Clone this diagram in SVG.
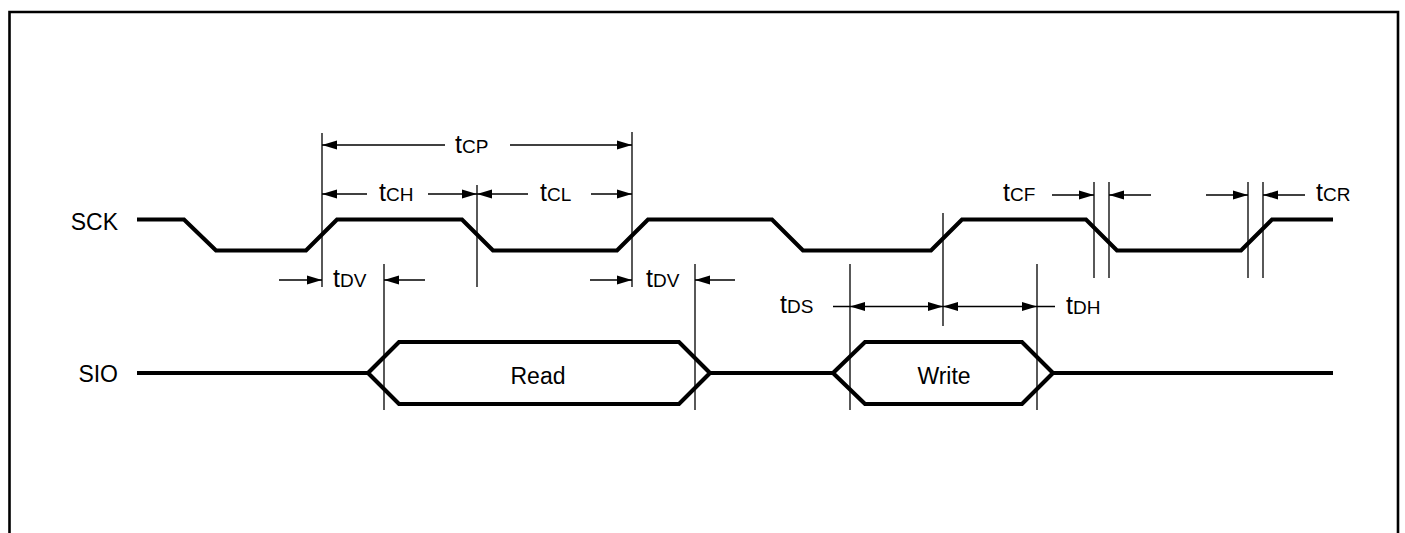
<svg xmlns="http://www.w3.org/2000/svg" width="1405" height="533" viewBox="0 0 1405 533">
<style>
text{font-family:"Liberation Sans",Arial,sans-serif;fill:#000}
.lbl{font-size:23px}
.t{font-size:25px}
.s{font-size:19px}
.sig{fill:none;stroke:#000;stroke-width:4.2;stroke-linejoin:miter}
.dim{fill:none;stroke:#000;stroke-width:1.3}
.arr{fill:none;stroke:#000;stroke-width:1.3;marker-end:url(#ah)}
.arr2{fill:none;stroke:#000;stroke-width:1.3;marker-start:url(#ah);marker-end:url(#ah)}
</style>
<defs>
<marker id="ah" markerUnits="userSpaceOnUse" markerWidth="16" markerHeight="10" viewBox="0 0 16 10" refX="15" refY="5" orient="auto-start-reverse">
<path d="M0,0.6 L15,5 L0,9.4 Z" fill="#000"/>
</marker>
</defs>
<rect width="1405" height="533" fill="#fff"/>
<path d="M9.5,533 V12 H1398 V533" fill="none" stroke="#000" stroke-width="2.6"/>

<g id="sck">
<text class="lbl" x="118" y="230" text-anchor="end">SCK</text>
<path class="sig" d="M137,219.5 H184 L216,250.5 H306 L337,219.5 H462 L493,250.5 H617 L648,219.5 H772 L803,250.5 H931 L962,219.5 H1086 L1117,250.5 H1241 L1272,219.5 H1333"/>
</g>

<g id="sio">
<text class="lbl" x="118" y="382" text-anchor="end">SIO</text>
<path class="sig" d="M137,373 H368 M710,373 H833 M1053,373 H1333"/>
</g>

<g id="read">
<path class="sig" d="M368,373 L399,342 H679 L710,373 L679,404 H399 Z"/>
<text class="lbl" x="538" y="384" text-anchor="middle">Read</text>
</g>

<g id="write">
<path class="sig" d="M833,373 L865,342 H1022 L1053,373 L1022,404 H865 Z"/>
<text class="lbl" x="944" y="384" text-anchor="middle">Write</text>
</g>

<g id="connectors">
<path class="dim" d="M322,133 V287 M477,185 V287 M632,132 V287 M384,264 V410 M695,264 V410 M850,264 V410 M943,213 V326 M1037,264 V410 M1094,182 V278 M1109,182 V278 M1248,182 V278 M1263,182 V278"/>
<path class="arr" d="M445,145 H322"/>
<path class="arr" d="M510,145 H632"/>
<path class="arr" d="M367,194 H322"/>
<path class="arr" d="M428,194 H477"/>
<path class="arr" d="M528,194 H477"/>
<path class="arr" d="M591,194 H632"/>
<path class="arr" d="M279,280 H322"/>
<path class="arr" d="M425,280 H384"/>
<path class="arr" d="M590,280 H632"/>
<path class="arr" d="M735,280 H695"/>
<path class="dim" d="M833,306.5 H850 M1037,306.5 H1055"/>
<path class="arr2" d="M850,306.5 H943"/>
<path class="arr2" d="M943,306.5 H1037"/>
<path class="arr" d="M1052,195 H1094"/>
<path class="arr" d="M1151,195 H1109"/>
<path class="arr" d="M1206,195 H1248"/>
<path class="arr" d="M1305,195 H1263"/>
</g>

<g id="labels">
<text x="455" y="153"><tspan class="t">t</tspan><tspan class="s">CP</tspan></text>
<text x="379" y="201"><tspan class="t">t</tspan><tspan class="s">CH</tspan></text>
<text x="540" y="201"><tspan class="t">t</tspan><tspan class="s">CL</tspan></text>
<text x="333" y="287"><tspan class="t">t</tspan><tspan class="s">DV</tspan></text>
<text x="646" y="287"><tspan class="t">t</tspan><tspan class="s">DV</tspan></text>
<text x="780" y="313"><tspan class="t">t</tspan><tspan class="s">DS</tspan></text>
<text x="1066" y="314"><tspan class="t">t</tspan><tspan class="s">DH</tspan></text>
<text x="1003" y="201"><tspan class="t">t</tspan><tspan class="s">CF</tspan></text>
<text x="1316" y="201"><tspan class="t">t</tspan><tspan class="s">CR</tspan></text>
</g>
</svg>
